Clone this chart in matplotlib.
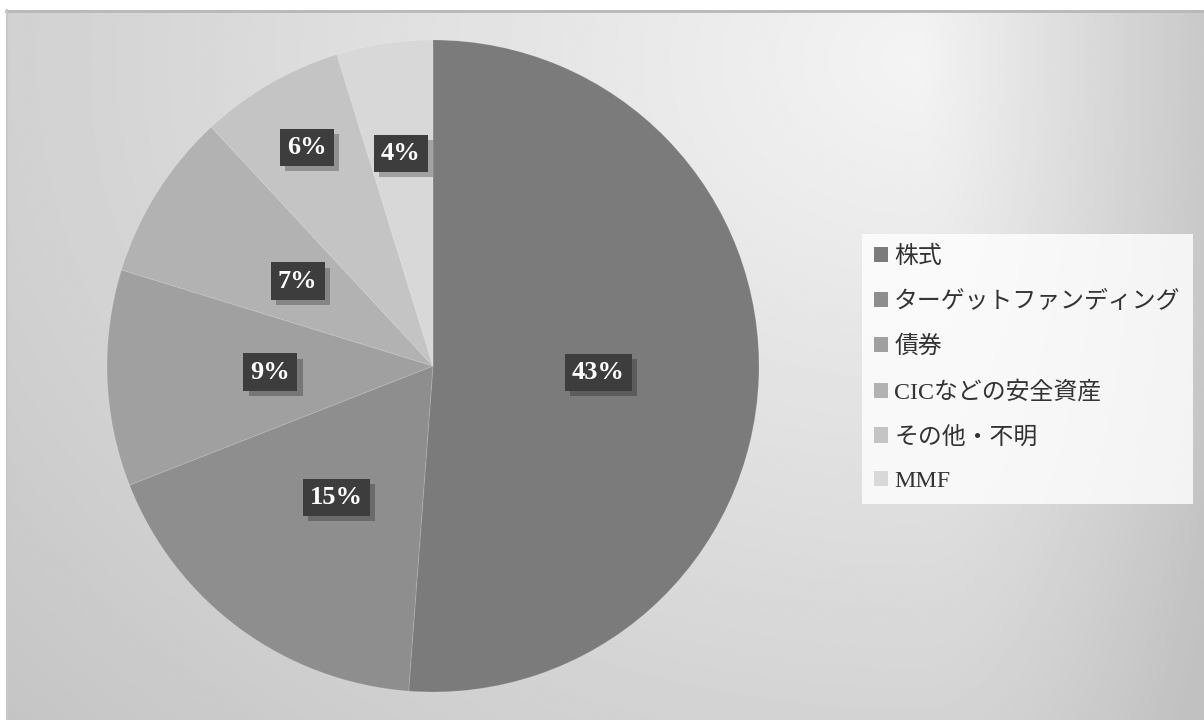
import numpy as np
import matplotlib
matplotlib.use("Agg")
import matplotlib.pyplot as plt
from matplotlib.patches import Patch
from matplotlib import patheffects as pe

# Data
categories = ["株式", "ターゲットファンディング", "債券", "CICなどの安全資産", "その他・不明", "MMF"]
shares = [43, 15, 9, 7, 6, 4]
labels = ["43%", "15%", "9%", "7%", "6%", "4%"]

# Styling
colors = ["#7b7b7b", "#8e8e8e", "#a0a0a0", "#b2b2b2", "#c4c4c4", "#d8d8d8"]
label_radius = [0.507, 0.50, 0.50, 0.49, 0.775, 0.66]

W, H = 1204, 720
fig = plt.figure(figsize=(W / 100, H / 100), dpi=100)
fig.patch.set_facecolor("white")

# Background panel with a soft radial-style gradient
x0, y_top = 6, 10
bg_ax = fig.add_axes([x0 / W, 0, 1 - x0 / W, (H - y_top) / H])
bg_ax.set_axis_off()
xs = np.linspace(x0, W, 600)
ys = np.linspace(y_top, H, 360)
X, Y = np.meshgrid(xs, ys)
cx, cy = 920, 60
dxn = np.where(X > cx, (X - cx) / 290.0, (X - cx) / 1150.0)
dyn = (Y - cy) / 900.0
d = np.sqrt(dxn ** 2 + dyn ** 2)
v = 0.955 - 0.17 * np.clip(d, 0, 1.18)
bg_ax.imshow(v, cmap="gray", vmin=0, vmax=1, aspect="auto",
             extent=[0, 1, 0, 1], origin="upper", interpolation="bilinear")
bg_ax.set_xlim(0, 1)
bg_ax.set_ylim(0, 1)
bg_ax.plot([0, 1], [0.999, 0.999], color="#b8b8b8", lw=2, transform=bg_ax.transAxes, clip_on=False)
bg_ax.plot([0.001, 0.001], [0, 1], color="#c8c8c8", lw=1.5, transform=bg_ax.transAxes, clip_on=False)

# Pie
R = 326
pcx, pcy = 433, 366
ax = fig.add_axes([(pcx - R) / W, (H - pcy - R) / H, 2 * R / W, 2 * R / H])
ax.set_axis_off()
wedges, _ = ax.pie(shares, colors=colors, startangle=90, counterclock=False,
                   radius=1.0, wedgeprops=dict(edgecolor=(1, 1, 1, 0.12), linewidth=0.8))
ax.set_xlim(-1, 1)
ax.set_ylim(-1, 1)

for w, lab, r in zip(wedges, labels, label_radius):
    ang = np.deg2rad((w.theta1 + w.theta2) / 2)
    x, y = r * np.cos(ang), r * np.sin(ang)
    t = ax.text(x, y, lab, ha="center", va="center", fontsize=19, fontweight="bold",
                family="Liberation Serif", color="white",
                bbox=dict(boxstyle="square,pad=0.27", facecolor="#3d3d3d", edgecolor="none"))
    t.get_bbox_patch().set_path_effects(
        [pe.SimplePatchShadow(offset=(4, -4), shadow_rgbFace="black", alpha=0.25), pe.Normal()])

# Legend
handles = [Patch(facecolor=c, edgecolor="none") for c in colors]
leg = fig.legend(handles, categories, loc="upper left",
                 bbox_to_anchor=(862 / W, 1 - 234 / H),
                 prop=dict(family=["Liberation Serif", "Noto Sans CJK JP"], size=17.2),
                 frameon=True, fancybox=False, borderpad=0.5,
                 handlelength=0.6, handleheight=0.6, handletextpad=0.25,
                 labelspacing=0.95, borderaxespad=0)
frame = leg.get_frame()
frame.set_facecolor((1, 1, 1, 0.2))
frame.set_edgecolor("none")
for t in leg.get_texts():
    t.set_color("#333333")

fig.savefig("out.png", dpi=100)
